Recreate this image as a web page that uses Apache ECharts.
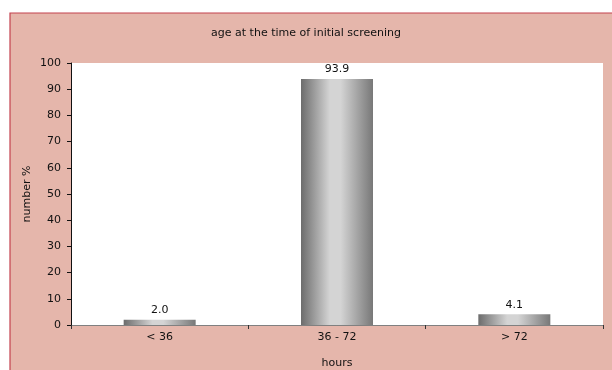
<!DOCTYPE html>
<html>
<head>
<meta charset="utf-8">
<script src="https://cdn.jsdelivr.net/npm/echarts@6/dist/echarts.min.js"></script>
<style>
  html, body { margin: 0; padding: 0; background: #fff; }
  #chart { width: 612px; height: 370px; }
</style>
</head>
<body>
<div id="chart"></div>
<script>
// Age groups (hours) and share of screened newborns (%)
const categories = ['< 36', '36 - 72', '> 72'];
const values = [2.0, 93.9, 4.1];
const yTicks = { min: 0, max: 100, step: 10 };

const chart = echarts.init(document.getElementById('chart'), null, { renderer: 'canvas' });
const FONT = 'DejaVu Sans';

const barFill = new echarts.graphic.LinearGradient(0, 0, 1, 0, [
  { offset: 0, color: '#6c6c6c' },
  { offset: 0.4, color: '#d4d4d4' },
  { offset: 0.55, color: '#d4d4d4' },
  { offset: 1, color: '#787878' }
]);

chart.setOption({
  backgroundColor: '#ffffff',
  animation: false,
  graphic: [{
    type: 'rect',
    z: -10,
    shape: { x: 10, y: 13, width: 620, height: 380 },
    style: { fill: '#e5b6ab', stroke: '#c4424f', lineWidth: 1.2 }
  }],
  title: {
    text: 'age at the time of initial screening',
    left: 'center',
    top: 23,
    textStyle: { fontFamily: FONT, fontSize: 11, fontWeight: 'normal', color: '#111' }
  },
  grid: {
    left: 71, top: 63, right: 9, bottom: 45,
    containLabel: false,
    outerBoundsMode: 'none',
    show: true, backgroundColor: '#ffffff', borderWidth: 0
  },
  xAxis: {
    type: 'category',
    data: categories,
    name: 'hours',
    nameLocation: 'middle',
    nameGap: 33,
    nameMoveOverlap: false,
    nameTextStyle: { fontFamily: FONT, fontSize: 11, color: '#111' },
    axisLine: { lineStyle: { color: '#808080', width: 1 } },
    axisTick: { show: true, length: 4, alignWithLabel: false, lineStyle: { color: '#333' } },
    axisLabel: { fontFamily: FONT, fontSize: 11, color: '#111', margin: 7 }
  },
  yAxis: {
    type: 'value',
    min: yTicks.min,
    max: yTicks.max,
    interval: yTicks.step,
    name: 'number %',
    nameLocation: 'middle',
    nameGap: 38,
    nameMoveOverlap: false,
    nameTextStyle: { fontFamily: FONT, fontSize: 11, color: '#111' },
    axisLine: { show: true, lineStyle: { color: '#111', width: 1 } },
    axisTick: { show: true, length: 4, lineStyle: { color: '#111' } },
    axisLabel: { fontFamily: FONT, fontSize: 11, color: '#111', margin: 10 },
    splitLine: { show: false }
  },
  series: [{
    type: 'bar',
    data: values,
    barWidth: 72,
    itemStyle: { color: barFill },
    label: {
      show: true,
      position: 'top',
      distance: 4,
      formatter: p => p.value.toFixed(1),
      fontFamily: FONT,
      fontSize: 11,
      color: '#111'
    }
  }]
});
</script>
</body>
</html>
